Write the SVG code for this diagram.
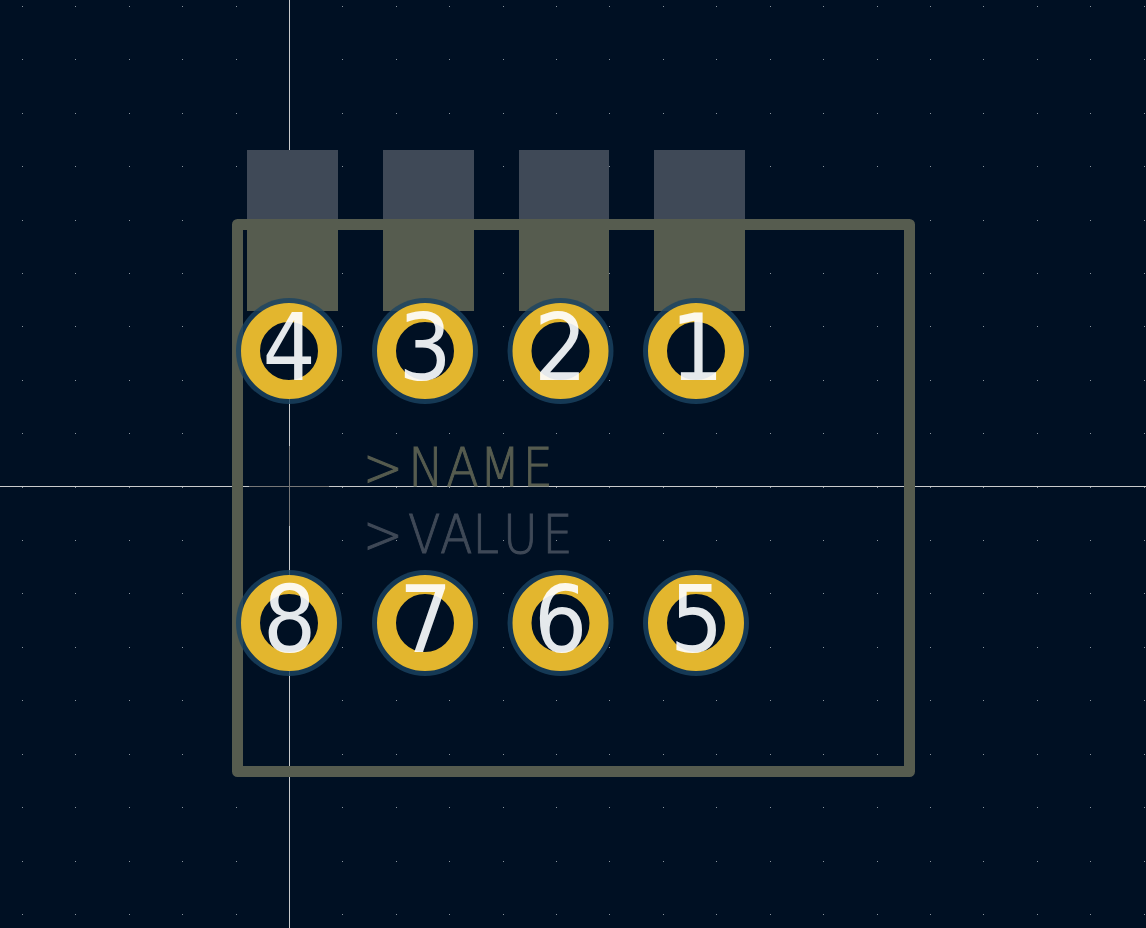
<svg xmlns="http://www.w3.org/2000/svg" width="1146" height="928" viewBox="0 0 1146 928">
<style>
.pad{fill:#3f4957;shape-rendering:crispEdges}
.over{fill:#565c4f;shape-rendering:crispEdges}
.ring{fill:#1a4461;fill-opacity:.8}
.ann{fill:#001023;stroke:#e3b62e;stroke-width:19}
.num{font-family:"DejaVu Sans Condensed","DejaVu Sans",sans-serif;font-stretch:condensed;font-size:93px;fill:#e5e7e9;text-anchor:middle;mix-blend-mode:screen}
.lbl{font-family:"DejaVu Sans",sans-serif;font-weight:200;font-size:54px;stroke-width:1}
.hair{shape-rendering:crispEdges}
</style>
<defs>
<path id="row" fill="#8a949e" shape-rendering="crispEdges" d="M22 0h1v1h-1zM75 0h1v1h-1zM129 0h1v1h-1zM182 0h1v1h-1zM236 0h1v1h-1zM342 0h1v1h-1zM396 0h1v1h-1zM449 0h1v1h-1zM503 0h1v1h-1zM556 0h1v1h-1zM609 0h1v1h-1zM663 0h1v1h-1zM716 0h1v1h-1zM770 0h1v1h-1zM823 0h1v1h-1zM877 0h1v1h-1zM930 0h1v1h-1zM983 0h1v1h-1zM1037 0h1v1h-1zM1090 0h1v1h-1zM1144 0h1v1h-1z"/>
</defs>
<rect width="1146" height="928" fill="#001023"/>
<g id="grid">
<use href="#row" y="6"/><use href="#row" y="59"/><use href="#row" y="113"/><use href="#row" y="166"/><use href="#row" y="220"/><use href="#row" y="273"/><use href="#row" y="326"/><use href="#row" y="380"/><use href="#row" y="433"/><use href="#row" y="487"/><use href="#row" y="540"/><use href="#row" y="593"/><use href="#row" y="647"/><use href="#row" y="700"/><use href="#row" y="754"/><use href="#row" y="807"/><use href="#row" y="861"/><use href="#row" y="914"/>
</g>
<g id="crosshair" class="hair">
<rect x="289" y="0" width="1" height="928" fill="#c9cbcc"/>
<rect x="0" y="486" width="1146" height="1" fill="#c9cbcc"/>
<rect x="289" y="446" width="1" height="80" fill="#777"/>
<rect x="249" y="486" width="80" height="1" fill="#777"/>
</g>
<g id="smd-pads">
<rect class="pad" x="247" y="150" width="91" height="161"/>
<rect class="pad" x="383" y="150" width="91" height="161"/>
<rect class="pad" x="519" y="150" width="90" height="161"/>
<rect class="pad" x="654" y="150" width="91" height="161"/>
<rect class="over" x="247" y="230" width="91" height="81"/>
<rect class="over" x="383" y="230" width="91" height="81"/>
<rect class="over" x="519" y="230" width="90" height="81"/>
<rect class="over" x="654" y="230" width="91" height="81"/>
</g>
<rect id="outline" x="237.5" y="224.5" width="672" height="547" fill="none" stroke="#565c4f" stroke-width="11" stroke-linejoin="round"/>
<g id="labels">
<text class="lbl" fill="#565c4f" stroke="#565c4f" transform="scale(.88 1)" x="412.5 464 507 545 594" y="486">&gt;NAME</text>
<text class="lbl" fill="#3f4957" stroke="#3f4957" transform="scale(.88 1)" x="412.5 463.6 500 537 571.6 616.5" y="553">&gt;VALUE</text>
</g>
<g id="pad4"><circle class="ring" cx="289" cy="351" r="53"/><circle class="ann" cx="289" cy="351" r="38.5"/><text class="num" x="289" y="380">4</text></g>
<g id="pad3"><circle class="ring" cx="425" cy="351" r="53"/><circle class="ann" cx="425" cy="351" r="38.5"/><text class="num" x="425" y="380">3</text></g>
<g id="pad2"><circle class="ring" cx="560.5" cy="351" r="53"/><circle class="ann" cx="560.5" cy="351" r="38.5"/><text class="num" x="560.5" y="380">2</text></g>
<g id="pad1"><circle class="ring" cx="696" cy="351" r="53"/><circle class="ann" cx="696" cy="351" r="38.5"/><text class="num" x="697" y="380">1</text></g>
<g id="pad8"><circle class="ring" cx="289" cy="623" r="53"/><circle class="ann" cx="289" cy="623" r="38.5"/><text class="num" x="289.5" y="652">8</text></g>
<g id="pad7"><circle class="ring" cx="425" cy="623" r="53"/><circle class="ann" cx="425" cy="623" r="38.5"/><text class="num" x="425.5" y="652">7</text></g>
<g id="pad6"><circle class="ring" cx="560.5" cy="623" r="53"/><circle class="ann" cx="560.5" cy="623" r="38.5"/><text class="num" x="560.5" y="652">6</text></g>
<g id="pad5"><circle class="ring" cx="696" cy="623" r="53"/><circle class="ann" cx="696" cy="623" r="38.5"/><text class="num" x="696.5" y="652">5</text></g>
</svg>
